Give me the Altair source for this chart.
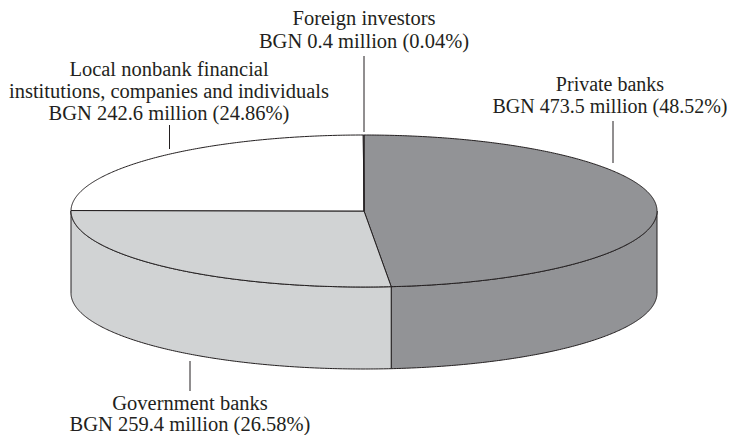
import math
import altair as alt
import pandas as pd

names = ["Private banks", "Government banks", "Local nonbank", "Foreign investors"]
shares = [48.52, 26.58, 24.86, 0.04]
fills = ["#929396", "#d1d3d4", "#ffffff", "#ffffff"]

# Label text
label_lines = [
    "Foreign investors", "BGN 0.4 million (0.04%)",
    "Local nonbank financial", "institutions, companies and individuals", "BGN 242.6 million (24.86%)",
    "Government banks", "BGN 259.4 million (26.58%)",
]
label_x = [356, 356, 161, 161, 161, 182, 182]
label_y = [17, 40, 68, 90, 112, 402, 423]

private_lines = ["Private banks", "BGN 473.5 million (48.52%)"]
private_x = [602, 602]
private_y = [83, 105]

leader_x = [356, 161.5, 605, 182]
leader_y1 = [48, 117, 113, 353]
leader_y2 = [124, 141, 155, 383]

W, H = 720, 427
CX, CY, RX, RY, DEPTH = 356, 203, 293, 76, 82
INK = "#231f20"

x_scale = alt.Scale(domain=[0, W], range=[0, W], nice=False, zero=False)
y_scale = alt.Scale(domain=[0, H], range=[0, H], nice=False, zero=False)


def arc(a0, a1, dy=0):
    n = max(2, int(abs(a1 - a0) * 2))
    out = []
    for i in range(n + 1):
        t = math.radians(a0 + (a1 - a0) * i / n)
        out.append((CX + RX * math.sin(t), CY + dy - RY * math.cos(t)))
    return out


def shape(points, fill):
    df = pd.DataFrame(points, columns=["x", "y"])
    df["i"] = range(len(df))
    return (
        alt.Chart(df)
        .mark_line(fill=fill, stroke=INK, strokeWidth=1, interpolate="linear", strokeJoin="miter", clip=False)
        .encode(
            x=alt.X("x:Q", scale=x_scale, axis=None),
            y=alt.Y("y:Q", scale=y_scale, axis=None),
            order="i:Q",
        )
    )


def text_layer(lines, xs, ys, size):
    df = pd.DataFrame({"t": lines, "x": xs, "y": ys})
    return (
        alt.Chart(df)
        .mark_text(font="Liberation Serif", fontSize=size, color=INK, align="center", baseline="alphabetic")
        .encode(
            x=alt.X("x:Q", scale=x_scale, axis=None),
            y=alt.Y("y:Q", scale=y_scale, axis=None),
            text="t:N",
        )
    )


starts = []
acc = 0.0
for s in shares:
    starts.append(acc)
    acc += s
angles = [(a * 3.6, (a + s) * 3.6) for a, s in zip(starts, shares)]

layers = []
# side wall: only the front half of the ellipse (90 to 270 degrees) is visible
for (a0, a1), fill in zip(angles, fills):
    lo, hi = max(a0, 90), min(a1, 270)
    if hi > lo:
        top = arc(lo, hi)
        bottom = arc(hi, lo, DEPTH)
        layers.append(shape(top + bottom + top[:1], fill))
# top face
for (a0, a1), fill in zip(angles, fills):
    c = [(CX, CY)]
    layers.append(shape(c + arc(a0, a1) + c, fill))

leaders = pd.DataFrame({"x": leader_x, "y": leader_y1, "y2": leader_y2})
layers.append(
    alt.Chart(leaders)
    .mark_rule(color=INK, strokeWidth=1)
    .encode(
        x=alt.X("x:Q", scale=x_scale, axis=None),
        y=alt.Y("y:Q", scale=y_scale, axis=None),
        y2="y2:Q",
    )
)

layers.append(text_layer(label_lines, label_x, label_y, 20.5))
layers.append(text_layer(private_lines, private_x, private_y, 20))

chart = (
    alt.layer(*layers)
    .properties(width=W, height=H, padding=0, autosize=alt.AutoSizeParams(type="none"))
    .configure_view(stroke=None)
)
chart.save("out.html", embed_options={"renderer": "svg", "actions": False})
